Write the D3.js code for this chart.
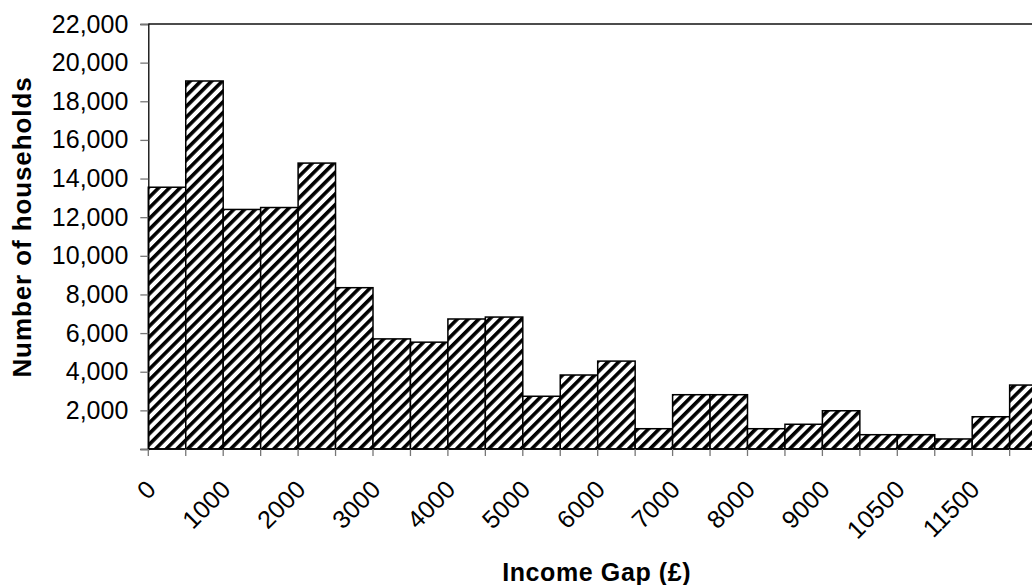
<!DOCTYPE html>
<html>
<head>
<meta charset="utf-8">
<script src="https://cdn.jsdelivr.net/npm/d3@7"></script>
<style>
  html, body { margin: 0; padding: 0; background: #fff; }
  svg { display: block; }
  text { font-family: "Liberation Sans", Arial, sans-serif; fill: #000; }
</style>
</head>
<body>
<svg id="chart" width="1032" height="585"></svg>
<script>
// ---- data ----
const categories = ["0","500","1000","1500","2000","2500","3000","3500","4000","4500",
  "5000","5500","6000","6500","7000","7500","8000","8500","9000","10000",
  "10500","11000","11500","12000"];
const households = [13550, 19050, 12400, 12500, 14800, 8350, 5700, 5530, 6730, 6830,
  2730, 3830, 4550, 1050, 2810, 2810, 1050, 1280, 1980, 740,
  740, 520, 1670, 3310];
const yTickValues = [0, 2000, 4000, 6000, 8000, 10000, 12000, 14000, 16000, 18000, 20000, 22000];
const labelledCategories = ["0","1000","2000","3000","4000","5000","6000","7000","8000","9000","10500","11500"];
const xTitle = "Income Gap (£)";
const yTitle = "Number of households";

// ---- layout ----
const svg = d3.select("#chart");
const plotLeft = 148.3, plotTop = 24, plotBottom = 449;
const bandW = 37.45;
const plotRight = plotLeft + bandW * categories.length;

const x = d3.scaleBand().domain(categories).range([plotLeft, plotRight]).padding(0);
const y = d3.scaleLinear().domain([0, 22000]).range([plotBottom, plotTop]);

// hatch pattern
const defs = svg.append("defs");
const pat = defs.append("pattern")
  .attr("id", "hatch")
  .attr("patternUnits", "userSpaceOnUse")
  .attr("width", 7.6).attr("height", 7.6)
  .attr("patternTransform", "rotate(45)");
pat.append("rect").attr("width", 7.6).attr("height", 7.6).attr("fill", "#fff");
pat.append("rect").attr("width", 3.6).attr("height", 7.6).attr("fill", "#000");

// bars
svg.append("g").selectAll("rect")
  .data(categories)
  .join("rect")
  .attr("x", d => x(d))
  .attr("y", (d, i) => y(households[i]))
  .attr("width", x.bandwidth())
  .attr("height", (d, i) => y(0) - y(households[i]))
  .attr("fill", "url(#hatch)")
  .attr("stroke", "#000")
  .attr("stroke-width", 1.5);

// top frame line
svg.append("line")
  .attr("x1", plotLeft).attr("x2", 1032)
  .attr("y1", plotTop).attr("y2", plotTop)
  .attr("stroke", "#111").attr("stroke-width", 1.4);

// y axis
const yAxis = d3.axisLeft(y)
  .tickValues(yTickValues)
  .tickSize(8)
  .tickPadding(12)
  .tickFormat(d => d === 0 ? "" : d3.format(",")(d));
const gy = svg.append("g").attr("transform", `translate(${plotLeft},0)`).call(yAxis);
gy.select(".domain").attr("stroke", "#000").attr("stroke-width", 1.3);
gy.selectAll(".tick line").attr("stroke", "#777").attr("stroke-width", 1.3);
gy.selectAll(".tick text")
  .attr("font-size", 25)
  .attr("font-family", "'Liberation Sans', Arial, sans-serif")
  .attr("fill", "#000");

// x axis (ticks at band boundaries)
const boundaries = d3.range(categories.length + 1);
const gx = svg.append("g");
gx.append("line")
  .attr("x1", plotLeft).attr("x2", plotRight)
  .attr("y1", plotBottom).attr("y2", plotBottom)
  .attr("stroke", "#000").attr("stroke-width", 1.5);
gx.selectAll("line.tk")
  .data(boundaries)
  .join("line")
  .attr("class", "tk")
  .attr("x1", i => i < categories.length ? x(categories[i]) : plotRight)
  .attr("x2", i => i < categories.length ? x(categories[i]) : plotRight)
  .attr("y1", plotBottom).attr("y2", plotBottom + 7)
  .attr("stroke", "#777").attr("stroke-width", 1.3);

gx.selectAll("text.lbl")
  .data(labelledCategories)
  .join("text")
  .attr("class", "lbl")
  .attr("font-size", 25)
  .attr("text-anchor", "end")
  .attr("transform", d => `translate(${x(d) + 9},${plotBottom + 42}) rotate(-45)`)
  .text(d => d);

// axis titles
svg.append("text")
  .attr("x", (plotLeft + plotRight) / 2 - 1)
  .attr("y", 581)
  .attr("text-anchor", "middle")
  .attr("font-size", 25)
  .attr("font-weight", "bold")
  .attr("letter-spacing", 0.6)
  .text(xTitle);

svg.append("text")
  .attr("transform", `translate(31,227) rotate(-90)`)
  .attr("text-anchor", "middle")
  .attr("font-size", 26)
  .attr("font-weight", "bold")
  .attr("letter-spacing", 0.9)
  .text(yTitle);
</script>
</body>
</html>
